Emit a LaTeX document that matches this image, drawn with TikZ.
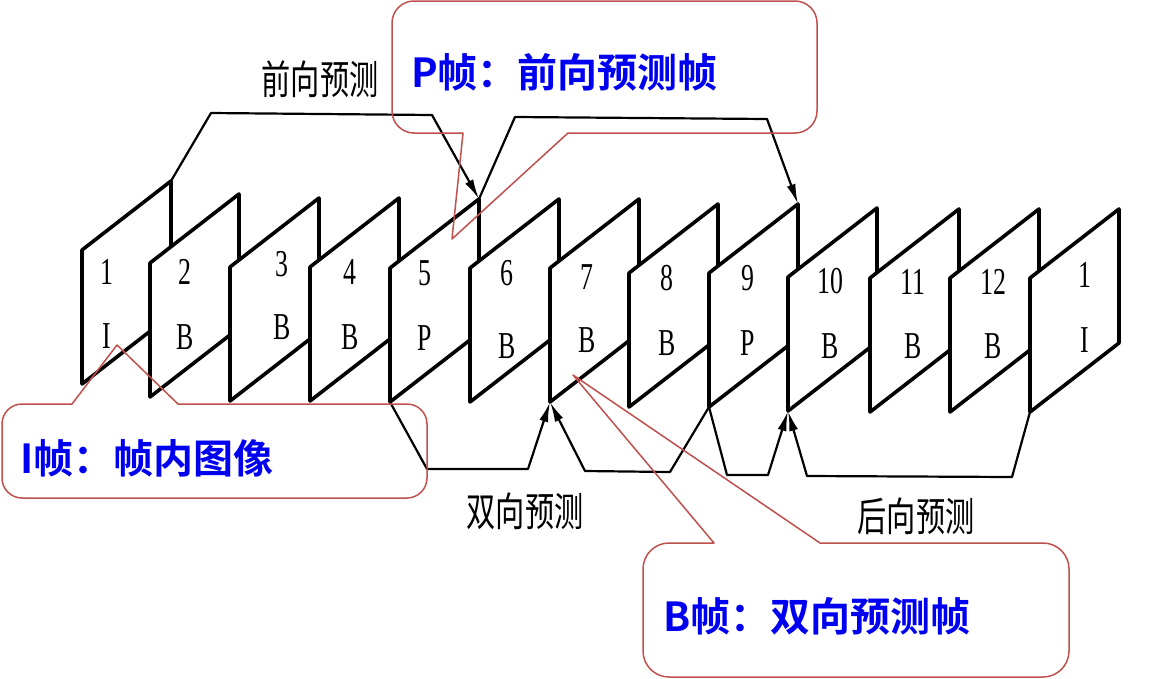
\documentclass[tikz,border=0pt]{standalone}
\usepackage{fontspec}
\setmainfont{Liberation Serif}
\newfontfamily\cjk{Noto Sans CJK SC}
\newfontfamily\cjkb{Noto Sans CJK SC Bold}
\usetikzlibrary{arrows.meta}
\definecolor{callred}{RGB}{192,80,77}
\definecolor{callblue}{RGB}{0,0,240}
\begin{document}
\begin{tikzpicture}[x=1pt,y=-1pt,
  framebox/.style={draw=black,fill=white,line width=3.6pt,line join=round},
  frametext/.style={font=\fontsize{38}{38}\selectfont,inner sep=0pt},
  conn/.style={draw=black,line width=2.2pt,line join=round},
  arr/.style={conn,-{Latex[length=20pt,width=9pt]}},
  predlabel/.style={font=\cjk\fontsize{40}{40}\selectfont,inner sep=0pt},
  callout/.style={draw=callred,line width=1.5pt,line join=round},
  calltext/.style={font=\cjkb\fontsize{40}{40}\selectfont,text=callblue,anchor=west,inner sep=0pt}]
\useasboundingbox (0,0) rectangle (1159,678);
\fill[white] (0,0) rectangle (1159,678);

% frames
\foreach \i/\L/\T/\nx/\ny/\n/\lx/\ly/\l in {
  1/82/250/107/272/1/107/336/I,
  2/150/263/185/272/2/185/337/B,
  3/230/267/282/264/3/282/327/B,
  4/310/267/350/272/4/350/337/B,
  5/390/268/425/273/5/425/338/P,
  6/470/268/507/273/6/507/346/B,
  7/550/268/587/277/7/587/340/B,
  8/629/273/667/278/8/667/343/B,
  9/709/273/748/278/9/748/343/P,
  10/788/277/830/281/10/830/346/B,
  11/870/278/913/282/11/913/346/B,
  12/950/278/993/282/12/993/346/B,
  13/1030/278/1085/275/1/1085/340/I}{
  \path[framebox] (\L,\T) coordinate (tl\i) -- ++(89,-69) coordinate (tr\i)
     -- ++(0,134) coordinate (br\i) -- ++(-89,69) coordinate (bl\i) -- cycle;
  \node[frametext] (num\i) at (\nx,\ny) {\scalebox{0.68}[1]{\n}};
  \node[frametext] (typ\i) at (\lx,\ly) {\scalebox{0.68}[1]{\l}};
}

% forward prediction (top)
\draw[arr] (tr1) -- (211,113) -- (432,115) -- (tr5);
\draw[arr] (tr5) -- (515,117) -- (767,119) -- (tr9);

% bidirectional prediction (bottom)
\draw[arr] (bl5) -- (427,469) -- (528,469) -- (bl7);
\draw[arr] (bl9) -- (670,472) -- (585,471) -- (bl7);

% backward prediction (bottom right)
\draw[arr] (bl9) -- (727,475) -- (768,475) -- (bl10);
\draw[arr] (bl13) -- (1012,477) -- (807,476) -- (bl10);

% prediction labels
\node[predlabel] (fwd) at (320,79) {\scalebox{0.73}[1]{前向预测}};
\node[predlabel] (bid) at (525,511) {\scalebox{0.73}[1]{双向预测}};
\node[predlabel] (bwd) at (916,516) {\scalebox{0.73}[1]{后向预测}};

% callout P
\draw[callout] (463,133) -- (452,239) -- (568,133) -- (795,133)
  arc[start angle=90,end angle=0,radius=22] -- (817,23)
  arc[start angle=0,end angle=-90,radius=22] -- (414,1)
  arc[start angle=270,end angle=180,radius=22] -- (392,111)
  arc[start angle=180,end angle=90,radius=22] -- cycle;
\node[calltext] (ptext) at (411,72) {P帧：前向预测帧};

% callout I
\draw[callout] (72,404) -- (117,345) -- (178,404) -- (407,404)
  arc[start angle=270,end angle=360,radius=20] -- (427,478)
  arc[start angle=0,end angle=90,radius=20] -- (22,498)
  arc[start angle=90,end angle=180,radius=20] -- (2,424)
  arc[start angle=180,end angle=270,radius=20] -- cycle;
\node[calltext] (itext) at (20,458) {I帧：帧内图像};

% callout B
\draw[callout] (714,543) -- (573,375) -- (820,543) -- (1043,543)
  arc[start angle=270,end angle=360,radius=26] -- (1069,651)
  arc[start angle=0,end angle=90,radius=26] -- (669,677)
  arc[start angle=90,end angle=180,radius=26] -- (643,569)
  arc[start angle=180,end angle=270,radius=26] -- cycle;
\node[calltext] (btext) at (663,616) {B帧：双向预测帧};
\end{tikzpicture}
\end{document}
